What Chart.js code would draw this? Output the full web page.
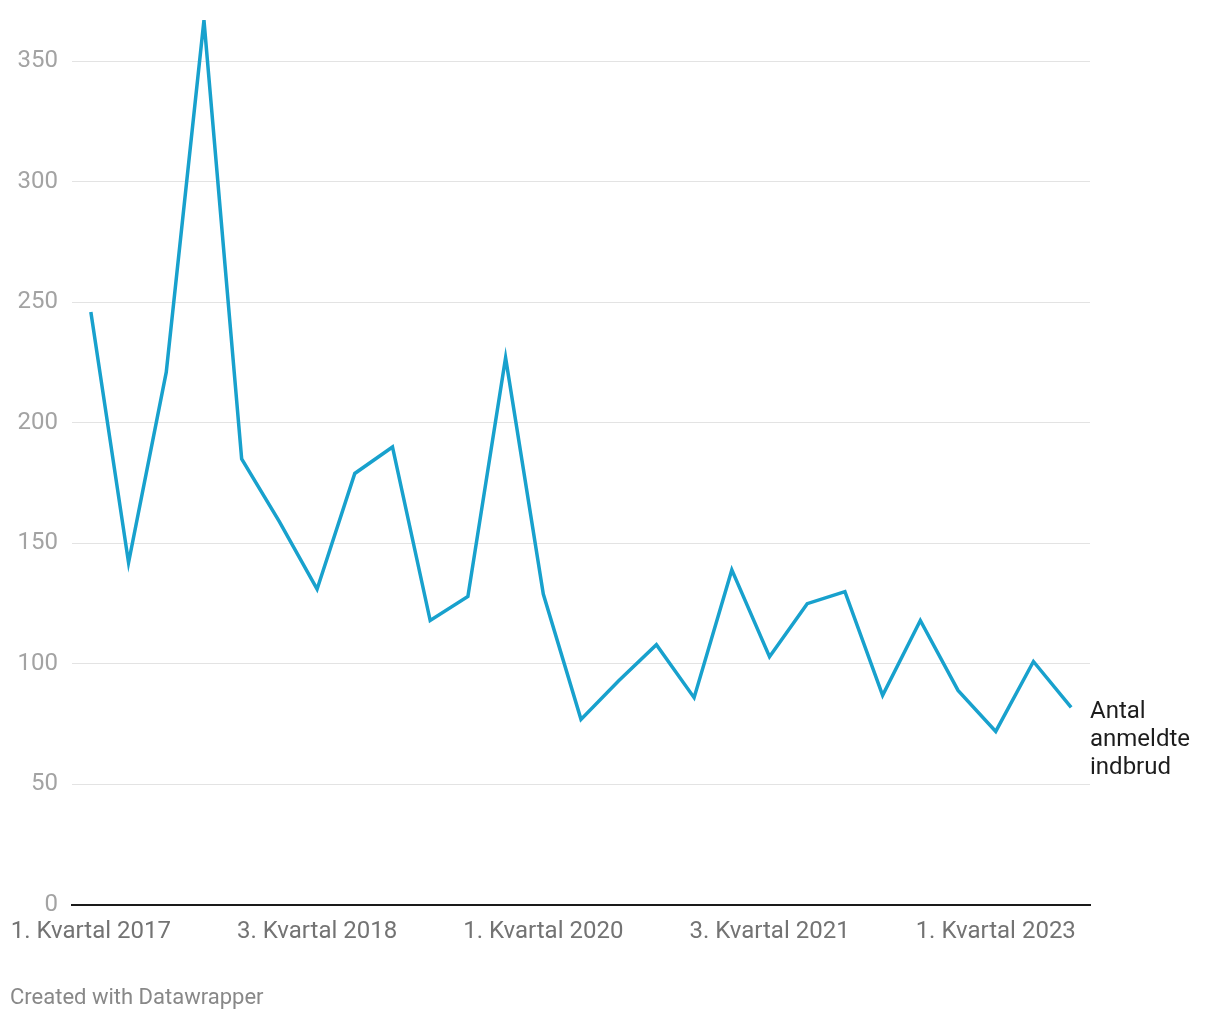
<!DOCTYPE html>
<html>
<head>
<meta charset="utf-8">
<script src="https://cdn.jsdelivr.net/npm/chart.js@4.4.1/dist/chart.umd.min.js"></script>
<style>
  html, body { margin: 0; padding: 0; background: #fff; }
  #wrap { position: relative; width: 1220px; height: 1020px; }
  #footer { position: absolute; left: 10px; top: 984px; font-family: Roboto, sans-serif; font-size: 22px; color: #888; }
</style>
</head>
<body>
<div id="wrap">
  <canvas id="c" width="1220" height="1020"></canvas>
  <div id="footer">Created with Datawrapper</div>
</div>
<script>
const quarters = [];
const years = [2017, 2018, 2019, 2020, 2021, 2022, 2023];
for (const y of years) for (let q = 1; q <= 4; q++) quarters.push(q + '. Kvartal ' + y);
const categories = quarters.slice(0, 27);
const indbrud = [246, 142, 221, 367, 185, 159, 131, 179, 190, 118, 128, 227, 129, 77, 93, 108, 86, 139, 103, 125, 130, 87, 118, 89, 72, 101, 82];
const seriesLabel = ['Antal', 'anmeldte', 'indbrud'];
const yTicks = [0, 50, 100, 150, 200, 250, 300, 350];

const endLabel = {
  id: 'endLabel',
  afterDatasetsDraw(chart) {
    const meta = chart.getDatasetMeta(0);
    const pt = meta.data[meta.data.length - 1];
    const ctx = chart.ctx;
    ctx.save();
    ctx.font = '24px Roboto';
    ctx.fillStyle = '#1d1d1d';
    ctx.textAlign = 'left';
    ctx.textBaseline = 'middle';
    seriesLabel.forEach((t, i) => ctx.fillText(t, chart.chartArea.right, pt.y + 5 + i * 28));
    ctx.restore();
  }
};

new Chart(document.getElementById('c'), {
  type: 'line',
  data: {
    labels: categories,
    datasets: [{
      data: indbrud,
      borderColor: '#18a1cd',
      borderWidth: 3.5,
      pointRadius: 0,
      tension: 0,
      fill: false,
      clip: false,
      borderJoinStyle: 'miter'
    }]
  },
  options: {
    responsive: false,
    animation: false,
    layout: { padding: { top: 13, right: 130, left: 0, bottom: 0 } },
    plugins: { legend: { display: false }, tooltip: { enabled: false } },
    scales: {
      x: {
        offset: true,
        grid: { display: false, drawTicks: false },
        border: { display: true, color: '#1a1a1a', width: 2 },
        ticks: {
          autoSkip: false, maxRotation: 0, minRotation: 0, padding: 13,
          color: '#737373', font: { family: 'Roboto', size: 24 },
          callback: function (v, i) { return i % 6 === 0 ? categories[i] : ''; }
        },
        afterFit(s) { s.height = 115; s.paddingLeft = 0; s.paddingRight = 0; s.paddingTop = 0; s.paddingBottom = 0; }
      },
      y: {
        min: 0, max: 370,
        grid: { color: '#e3e3e3', lineWidth: 1, drawTicks: false },
        border: { display: false },
        afterBuildTicks(s) { s.ticks = yTicks.map(v => ({ value: v })); },
        ticks: { padding: 14, color: '#a3a3a3', font: { family: 'Roboto', size: 24 } },
        afterFit(s) { s.width = 72; s.paddingLeft = 0; s.paddingRight = 0; s.paddingTop = 0; s.paddingBottom = 0; }
      }
    }
  },
  plugins: [endLabel]
});
</script>
</body>
</html>
